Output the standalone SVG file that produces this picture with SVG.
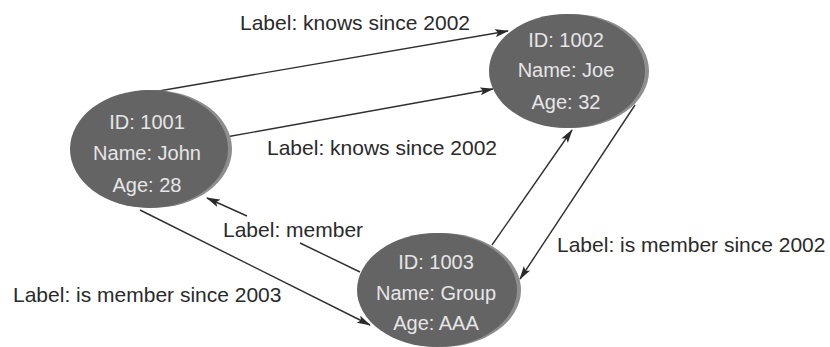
<svg xmlns="http://www.w3.org/2000/svg" width="830" height="347" viewBox="0 0 830 347">
  <defs>
    <marker id="arrow" viewBox="0 0 14 8" refX="13" refY="4" markerWidth="14" markerHeight="8" markerUnits="userSpaceOnUse" orient="auto">
      <path d="M0,0 L14,4 L0,8 L3,4 z" fill="#2a2a2a"/>
    </marker>
    <style>
      .rim { fill: #8e8e8e; }
      .body { fill: #646464; }
      .ntext { font-family: "Liberation Sans", Arial, sans-serif; font-size: 20px; fill: #e6e6e6; text-anchor: middle; }
      .label { font-family: "Liberation Sans", Arial, sans-serif; font-size: 21px; fill: #2a2a2a; }
      .edge { fill: none; stroke: #2f2f2f; stroke-width: 1.4; marker-end: url(#arrow); }
    </style>
  </defs>
  <rect width="830" height="347" fill="#ffffff"/>

  <g id="connectors">
    <path class="edge" d="M153,92 L508,31"/>
    <path class="edge" d="M226,137 L493,89"/>
    <path class="edge" d="M360,272 L300,243 M247,216 L207,198"/>
    <path class="edge" d="M140,210 L370,325"/>
    <path class="edge" d="M492,245 L572,130"/>
    <path class="edge" d="M635,105 L520,279"/>
  </g>

  <g id="node-1001">
    <ellipse class="rim" cx="153" cy="149" rx="79" ry="59"/>
    <ellipse class="body" cx="149" cy="149" rx="79" ry="59"/>
    <text class="ntext" x="147" y="129">ID: 1001</text>
    <text class="ntext" x="147" y="160">Name: John</text>
    <text class="ntext" x="147" y="192">Age: 28</text>
  </g>

  <g id="node-1002">
    <ellipse class="rim" cx="571" cy="71" rx="78" ry="57"/>
    <ellipse class="body" cx="567" cy="71" rx="78" ry="57"/>
    <text class="ntext" x="566" y="47">ID: 1002</text>
    <text class="ntext" x="566" y="77">Name: Joe</text>
    <text class="ntext" x="566" y="109">Age: 32</text>
  </g>

  <g id="node-1003">
    <ellipse class="rim" cx="441" cy="290" rx="80" ry="57"/>
    <ellipse class="body" cx="437" cy="290" rx="80" ry="57"/>
    <text class="ntext" x="436" y="269">ID: 1003</text>
    <text class="ntext" x="436" y="300">Name: Group</text>
    <text class="ntext" x="436" y="330">Age: AAA</text>
  </g>

  <g id="edge-labels">
    <text class="label" x="240" y="30">Label: knows since 2002</text>
    <text class="label" x="267" y="155">Label: knows since 2002</text>
    <text class="label" x="223" y="237">Label: member</text>
    <text class="label" x="13" y="302">Label: is member since 2003</text>
    <text class="label" x="557" y="252">Label: is member since 2002</text>
  </g>
</svg>
